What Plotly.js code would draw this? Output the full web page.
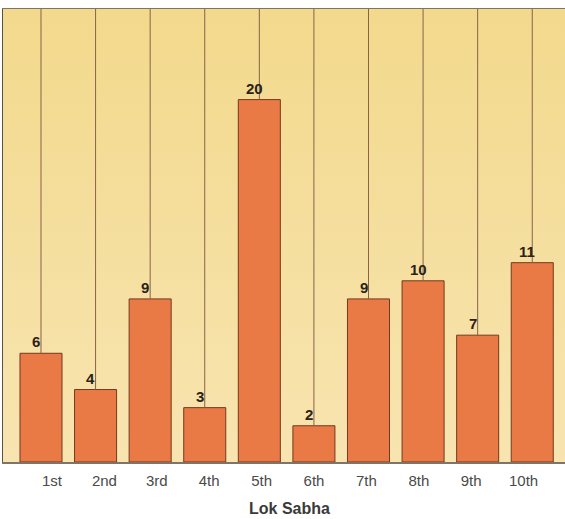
<!DOCTYPE html>
<html>
<head>
<meta charset="utf-8">
<script src="https://cdn.plot.ly/plotly-3.0.1.min.js"></script>
<style>html,body{margin:0;padding:0;background:#fff;}#chart{width:565px;height:519px;}</style>
</head>
<body>
<div id="chart"></div>
<script>
const categories = ["1st","2nd","3rd","4th","5th","6th","7th","8th","9th","10th"];
const values = [6, 4, 9, 3, 20, 2, 9, 10, 7, 11];
const yMax = 25;

// guide lines from bar top to the top of the plot
const lineX = [], lineY = [];
categories.forEach((c, i) => { lineX.push(c, c, null); lineY.push(values[i], yMax, null); });

const guide = {
  type: 'scatter', mode: 'lines', x: lineX, y: lineY,
  line: {color: '#8a6248', width: 1}, hoverinfo: 'skip', showlegend: false
};
const bars = {
  type: 'bar', x: categories, y: values, width: 0.77,
  marker: {color: '#e97a45', line: {color: '#74391f', width: 1}},
  showlegend: false
};
// invisible carrier for the tick-label axis (labels sit slightly off the bar centres in the original)
const labelCarrier = {
  type: 'scatter', mode: 'markers', x: categories, y: categories.map(() => 0),
  xaxis: 'x2', yaxis: 'y', marker: {opacity: 0, size: 1}, hoverinfo: 'skip', showlegend: false
};

const svg = '<svg xmlns="http://www.w3.org/2000/svg" width="100" height="100" preserveAspectRatio="none">' +
  '<defs><linearGradient id="g" x1="0" y1="0" x2="0" y2="1">' +
  '<stop offset="0" stop-color="#f2d98c"/><stop offset="1" stop-color="#f8e4b0"/>' +
  '</linearGradient></defs><rect width="100" height="100" fill="url(#g)"/></svg>';

const font = 'Liberation Sans, Arial, sans-serif';
const annotations = categories.map((c, i) => ({
  x: c, y: values[i], xref: 'x', yref: 'y', text: '<b>' + values[i] + '</b>',
  showarrow: false, yanchor: 'bottom', xanchor: 'center', xshift: -5, yshift: 1,
  font: {family: font, size: 15, color: '#2a2218'}
}));
annotations.push({
  xref: 'paper', yref: 'paper', x: 0.51, y: 0, yanchor: 'top', yshift: -36,
  text: '<b>Lok Sabha</b>', showarrow: false,
  font: {family: font, size: 16, color: '#3a3a3a'}
});

const layout = {
  width: 565, height: 519,
  margin: {l: 3, r: 0, t: 9, b: 57},
  paper_bgcolor: '#ffffff', plot_bgcolor: '#f5dfa0',
  images: [{source: 'data:image/svg+xml;charset=utf-8,' + encodeURIComponent(svg),
    xref: 'paper', yref: 'paper', x: 0, y: 1, sizex: 1, sizey: 1,
    sizing: 'stretch', xanchor: 'left', yanchor: 'top', layer: 'below'}],
  xaxis: {
    type: 'category', range: [-0.696, 9.6], showgrid: false, zeroline: false,
    showline: true, linecolor: '#807468', linewidth: 1.5, mirror: true,
    showticklabels: false, ticks: ''
  },
  xaxis2: {
    type: 'category', overlaying: 'x', anchor: 'y', side: 'bottom',
    range: [-0.935, 9.79], showgrid: false, zeroline: false, showline: false,
    ticks: 'outside', ticklen: 5, tickcolor: 'rgba(0,0,0,0)',
    tickfont: {family: font, size: 15, color: '#4a4a4a'}
  },
  yaxis: {
    range: [0, yMax], showgrid: false, zeroline: false, showticklabels: false,
    showline: true, linecolor: '#5a524a', linewidth: 1.5, ticks: ''
  },
  annotations: annotations,
  bargap: 0.23
};

Plotly.newPlot('chart', [guide, bars, labelCarrier], layout, {displayModeBar: false, staticPlot: true});
</script>
</body>
</html>
